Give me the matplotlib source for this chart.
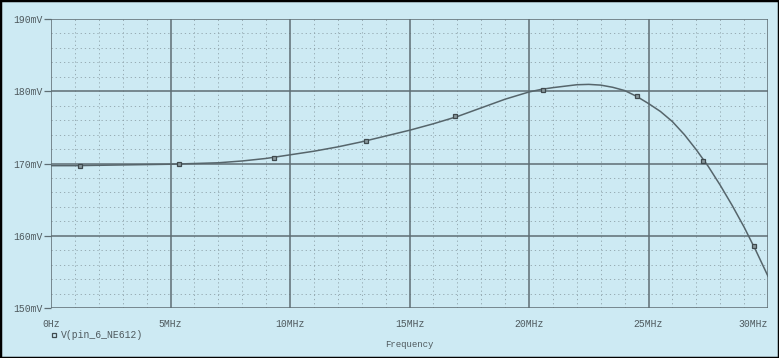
import numpy as np
import matplotlib.pyplot as plt
from matplotlib.patches import Rectangle

# DATA ########################################################################

freq_mhz = [0, 1, 2, 3, 4, 5, 6, 7, 8, 9, 10, 11, 12, 13, 14, 15,
            16, 17, 18, 19, 20, 20.5, 21, 21.5, 22, 22.5, 23, 23.5, 24, 24.5,
            25, 25.5, 26, 26.5, 27, 27.5, 28, 28.5, 29, 29.5, 30]
v_mv = [169.7, 169.7, 169.75, 169.8, 169.85, 169.9, 170.0, 170.1, 170.35, 170.7,
        171.2, 171.7, 172.3, 173.0, 173.8, 174.6, 175.5, 176.5, 177.7, 178.9,
        179.9, 180.25, 180.5, 180.7, 180.9, 180.95, 180.85, 180.55, 180.1, 179.3,
        178.3, 177.2, 175.8, 174.0, 171.9, 169.6, 167.0, 164.2, 161.2, 157.9, 154.4]

marker_mhz = [1.2, 5.35, 9.35, 13.2, 16.9, 20.6, 24.5, 27.3, 29.4]
marker_mv = [169.7, 169.9, 170.8, 173.1, 176.6, 180.2, 179.4, 170.4, 158.6]

xticks = [0, 5, 10, 15, 20, 25, 30]
xtick_labels = ["0Hz", "5MHz", "10MHz", "15MHz", "20MHz", "25MHz", "30MHz"]
yticks = [150, 160, 170, 180, 190]
ytick_labels = ["150mV", "160mV", "170mV", "180mV", "190mV"]

series_label = "V(pin_6_NE612)"

# STYLE #######################################################################

bg = "#cdeaf3"
major_c = "#5f6e74"
minor_c = "#8ea2a9"
txt_c = "#4f5a5e"
line_c = "#56656b"
mono = "Liberation Mono"

# PLOT ########################################################################

fig = plt.figure(figsize=(7.79, 3.58), dpi=100, facecolor=bg)
ax = fig.add_axes([51 / 779, 1 - 308 / 358, 717 / 779, 289 / 358])
ax.set_facecolor(bg)

ax.set_xlim(0, 30)
ax.set_ylim(150, 190)

# minor dotted grid
for f in range(1, 30):
    if f % 5:
        ax.axvline(f, color=minor_c, lw=0.6, ls=(0, (1.5, 3.5)), zorder=1)
for v in range(152, 190, 2):
    if v % 10:
        ax.axhline(v, color=minor_c, lw=0.6, ls=(0, (1.5, 3.5)), zorder=1)

# major grid
for f in xticks:
    ax.axvline(f, color=major_c, lw=1.1, zorder=2)
for v in yticks:
    ax.axhline(v, color=major_c, lw=1.1, zorder=2)

ax.plot(freq_mhz, v_mv, color=line_c, lw=1.1, zorder=3)
ax.plot(marker_mhz, marker_mv, ls="none", marker="s", ms=3.5, mfc="#8a9a9f",
        mec="#3f4a4e", mew=0.9, zorder=4)

for s in ax.spines.values():
    s.set_visible(False)

ax.set_xticks(xticks)
ax.set_xticklabels(xtick_labels, fontfamily=mono, fontsize=7, color=txt_c)
ax.set_yticks(yticks)
ax.set_yticklabels(ytick_labels, fontfamily=mono, fontsize=7, color=txt_c)
ax.tick_params(axis="x", length=0, pad=8)
ax.tick_params(axis="y", length=5, width=0.9, color=major_c, pad=1)
ax.get_xticklabels()[-1].set_horizontalalignment("right")

ax.set_xlabel("Frequency", fontfamily=mono, fontsize=6.5, color=txt_c, labelpad=8)

# legend entry
fig.patches.append(Rectangle((52 / 779, 1 - 337 / 358), 4 / 779, 4 / 358,
                             transform=fig.transFigure, fill=False,
                             ec="#3f4a4e", lw=0.9))
fig.text(61 / 779, 1 - 335 / 358, series_label, fontfamily=mono, fontsize=7,
         color=txt_c, va="center", ha="left")

# outer frame
fig.patches.append(Rectangle((0, 0), 1, 1, transform=fig.transFigure,
                             fill=False, ec="black", lw=2.5))

plt.savefig("out.png", dpi=100, facecolor=bg)
